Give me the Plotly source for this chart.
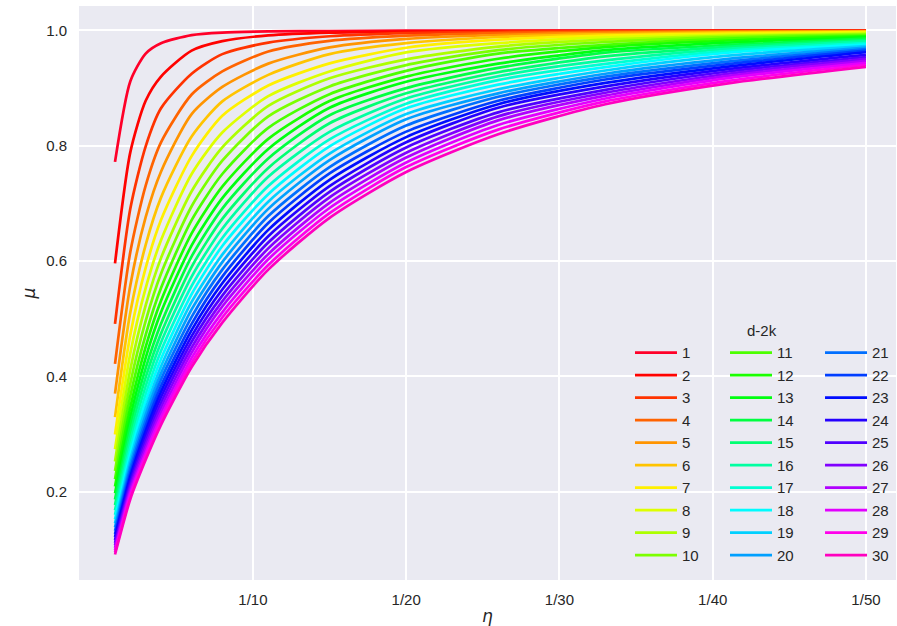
import plotly.graph_objects as go

# x positions: denominator n of eta = 1/n
eta_den = [1, 2, 3, 4, 6, 8, 11, 15, 20, 26, 33, 41, 50]
x_tick_vals = [10, 20, 30, 40, 50]
x_tick_text = ["1/10", "1/20", "1/30", "1/40", "1/50"]
y_tick_vals = [0.2, 0.4, 0.6, 0.8, 1.0]
y_tick_text = ["0.2", "0.4", "0.6", "0.8", "1.0"]
d2k_labels = [str(i) for i in range(1, 31)]

mu_d1 = [0.772, 0.912, 0.960, 0.978, 0.992, 0.9964, 0.9983, 0.9991, 0.9997, 0.9998, 0.9999, 0.9999, 1.0]
mu_d2 = [0.596, 0.789, 0.878, 0.920, 0.965, 0.9815, 0.9915, 0.9964, 0.9982, 0.9990, 0.9994, 0.9997, 0.9998]
mu_d3 = [0.491, 0.691, 0.799, 0.865, 0.925, 0.959, 0.979, 0.990, 0.9956, 0.9978, 0.9986, 0.9992, 0.9995]
mu_d4 = [0.4215, 0.616, 0.731, 0.806, 0.889, 0.929, 0.9635, 0.982, 0.991, 0.9956, 0.9977, 0.9985, 0.9990]
mu_d5 = [0.370, 0.558, 0.676, 0.755, 0.855, 0.902, 0.9425, 0.9706, 0.9855, 0.9922, 0.9960, 0.9977, 0.9985]
mu_d6 = [0.329, 0.511, 0.628, 0.710, 0.816, 0.877, 0.923, 0.959, 0.978, 0.9887, 0.9934, 0.9966, 0.9980]
mu_d7 = [0.299, 0.472, 0.588, 0.671, 0.782, 0.852, 0.9045, 0.943, 0.970, 0.984, 0.991, 0.9948, 0.9971]
mu_d8 = [0.2734, 0.440, 0.553, 0.636, 0.751, 0.823, 0.886, 0.929, 0.962, 0.978, 0.988, 0.9927, 0.9960]
mu_d9 = [0.2522, 0.412, 0.523, 0.605, 0.721, 0.797, 0.869, 0.917, 0.950, 0.972, 0.984, 0.9907, 0.9943]
mu_d10 = [0.2355, 0.3875, 0.496, 0.578, 0.695, 0.774, 0.851, 0.903, 0.940, 0.966, 0.980, 0.9886, 0.9927]
mu_d11 = [0.2212, 0.366, 0.472, 0.553, 0.671, 0.751, 0.831, 0.8895, 0.930, 0.960, 0.975, 0.986, 0.9912]
mu_d12 = [0.2086, 0.346, 0.451, 0.531, 0.648, 0.729, 0.812, 0.8775, 0.920, 0.951, 0.971, 0.9826, 0.9898]
mu_d13 = [0.1969, 0.329, 0.432, 0.511, 0.627, 0.709, 0.7945, 0.866, 0.911, 0.9425, 0.966, 0.979, 0.9883]
mu_d14 = [0.186, 0.314, 0.414, 0.491, 0.608, 0.691, 0.778, 0.853, 0.900, 0.935, 0.9615, 0.975, 0.9858]
mu_d15 = [0.1764, 0.3005, 0.398, 0.474, 0.590, 0.673, 0.7615, 0.839, 0.891, 0.9275, 0.955, 0.9716, 0.9835]
mu_d16 = [0.1676, 0.288, 0.383, 0.4586, 0.573, 0.656, 0.746, 0.824, 0.882, 0.9206, 0.948, 0.968, 0.9810]
mu_d17 = [0.1595, 0.2764, 0.369, 0.444, 0.557, 0.640, 0.730, 0.811, 0.873, 0.914, 0.942, 0.9648, 0.9782]
mu_d18 = [0.152, 0.266, 0.3565, 0.430, 0.5425, 0.626, 0.716, 0.799, 0.865, 0.906, 0.9365, 0.9614, 0.9755]
mu_d19 = [0.1448, 0.256, 0.344, 0.417, 0.529, 0.611, 0.703, 0.7865, 0.855, 0.898, 0.9306, 0.9563, 0.9728]
mu_d20 = [0.138, 0.2475, 0.333, 0.405, 0.516, 0.598, 0.6905, 0.775, 0.846, 0.891, 0.925, 0.9508, 0.9703]
mu_d21 = [0.132, 0.240, 0.323, 0.394, 0.503, 0.585, 0.678, 0.763, 0.835, 0.885, 0.920, 0.9460, 0.9676]
mu_d22 = [0.1264, 0.2325, 0.314, 0.383, 0.491, 0.573, 0.666, 0.752, 0.8245, 0.878, 0.915, 0.9417, 0.9650]
mu_d23 = [0.1211, 0.226, 0.305, 0.373, 0.480, 0.5615, 0.654, 0.741, 0.815, 0.872, 0.909, 0.9374, 0.9622]
mu_d24 = [0.116, 0.2197, 0.297, 0.3635, 0.4696, 0.5505, 0.643, 0.730, 0.806, 0.866, 0.903, 0.9331, 0.9578]
mu_d25 = [0.111, 0.2138, 0.289, 0.354, 0.460, 0.540, 0.632, 0.720, 0.797, 0.858, 0.897, 0.9288, 0.9540]
mu_d26 = [0.1066, 0.208, 0.281, 0.3455, 0.450, 0.530, 0.622, 0.7105, 0.788, 0.851, 0.892, 0.9250, 0.9506]
mu_d27 = [0.1024, 0.2026, 0.274, 0.337, 0.441, 0.521, 0.612, 0.701, 0.7795, 0.844, 0.887, 0.9212, 0.9472]
mu_d28 = [0.0982, 0.197, 0.267, 0.329, 0.432, 0.511, 0.603, 0.692, 0.771, 0.836, 0.882, 0.9174, 0.9437]
mu_d29 = [0.0943, 0.192, 0.261, 0.322, 0.424, 0.502, 0.593, 0.683, 0.763, 0.828, 0.877, 0.9126, 0.9405]
mu_d30 = [0.0907, 0.187, 0.255, 0.3155, 0.416, 0.493, 0.585, 0.675, 0.7545, 0.820, 0.872, 0.9083, 0.9370]

mu_series = [mu_d1, mu_d2, mu_d3, mu_d4, mu_d5, mu_d6, mu_d7, mu_d8, mu_d9, mu_d10,
             mu_d11, mu_d12, mu_d13, mu_d14, mu_d15, mu_d16, mu_d17, mu_d18, mu_d19, mu_d20,
             mu_d21, mu_d22, mu_d23, mu_d24, mu_d25, mu_d26, mu_d27, mu_d28, mu_d29, mu_d30]

# gist_rainbow colormap (style only)
_r = [(0.0, 1.0), (0.03, 1.0), (0.215, 1.0), (0.4, 0.0), (0.586, 0.0), (0.77, 0.0), (0.954, 1.0), (1.0, 1.0)]
_g = [(0.0, 0.0), (0.03, 0.0), (0.215, 1.0), (0.4, 1.0), (0.586, 1.0), (0.77, 0.0), (0.954, 0.0), (1.0, 0.0)]
_b = [(0.0, 0.16), (0.03, 0.0), (0.215, 0.0), (0.4, 0.0), (0.586, 1.0), (0.77, 1.0), (0.954, 1.0), (1.0, 0.75)]


def _chan(seg, v):
    for (x0, y0), (x1, y1) in zip(seg[:-1], seg[1:]):
        if x0 <= v <= x1:
            return y0 + (y1 - y0) * (v - x0) / (x1 - x0)
    return seg[-1][1]


def cmap(x):
    idx = min(int(x * 256), 255)
    v = idx / 255.0
    return "rgb(%d,%d,%d)" % (round(_chan(_r, v) * 255), round(_chan(_g, v) * 255), round(_chan(_b, v) * 255))


n_series = len(mu_series)
fig = go.Figure()
legend_names = ["legend", "legend2", "legend3"]
for i, ys in enumerate(mu_series):
    fig.add_trace(go.Scatter(
        x=eta_den, y=ys, mode="lines", name=d2k_labels[i],
        line=dict(color=cmap(i / (n_series - 1)), width=2.7, shape="spline", smoothing=0.7),
        legend=legend_names[i // 10], legendgroup="g%d" % i,
    ))

FONT = "Liberation Sans, Arial, sans-serif"
TXT = "#262626"
leg_common = dict(bgcolor="rgba(0,0,0,0)", borderwidth=0, font=dict(family=FONT, size=15, color=TXT),
                  yanchor="top", xanchor="left", tracegroupgap=0, itemwidth=42)

LEG_Y = 0.4246
fig.update_layout(
    width=897, height=626,
    margin=dict(l=79, r=1, t=6, b=46),
    paper_bgcolor="white", plot_bgcolor="#EAEAF2",
    font=dict(family=FONT, size=15, color=TXT),
    showlegend=True,
    legend=dict(x=0.6744, y=LEG_Y, **leg_common),
    legend2=dict(x=0.7907, y=LEG_Y, **leg_common),
    legend3=dict(x=0.907, y=LEG_Y, **leg_common),
    xaxis=dict(range=[-1.35, 51.96], tickvals=x_tick_vals, ticktext=x_tick_text,
               showgrid=True, gridcolor="white", gridwidth=1.7, zeroline=False,
               showline=False, ticks="outside", ticklen=6, tickcolor="rgba(0,0,0,0)",
               tickfont=dict(family=FONT, size=15, color=TXT),
               title=dict(text="<i>η</i>", font=dict(family="DejaVu Sans", size=17, color=TXT), standoff=4)),
    yaxis=dict(range=[0.0465, 1.0425], tickvals=y_tick_vals, ticktext=y_tick_text,
               showgrid=True, gridcolor="white", gridwidth=1.7, zeroline=False,
               showline=False, ticks="outside", ticklen=8, tickcolor="rgba(0,0,0,0)",
               tickfont=dict(family=FONT, size=15, color=TXT),
               title=dict(text="<i>μ</i>", font=dict(family="DejaVu Sans", size=17, color=TXT), standoff=6)),
    annotations=[dict(text="d-2k", x=0.836, y=0.4343, xref="paper", yref="paper",
                      xanchor="center", yanchor="middle", showarrow=False,
                      font=dict(family=FONT, size=15, color=TXT))],
)

fig.write_html("out.html")
